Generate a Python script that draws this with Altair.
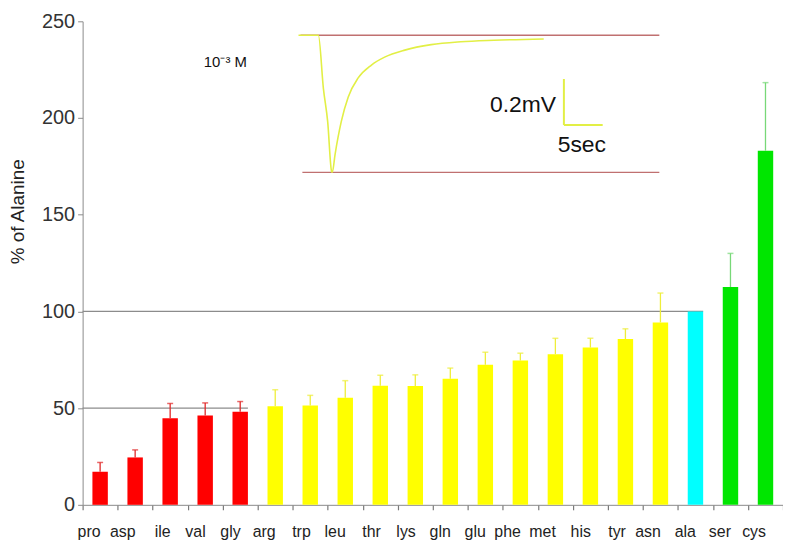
import altair as alt
import pandas as pd

# ---- main bar data ----
amino = ["pro", "asp", "ile", "val", "gly", "arg", "trp", "leu", "thr", "lys",
         "gln", "glu", "phe", "met", "his", "tyr", "asn", "ala", "ser", "cys"]
pct = [17.1, 24.5, 44.7, 46.2, 48.1, 51.0, 51.3, 55.3, 61.6, 61.4,
       65.2, 72.4, 74.6, 77.9, 81.3, 85.7, 94.3, 100.0, 112.6, 183.1]
sem = [4.8, 3.9, 7.7, 6.5, 5.3, 8.5, 5.3, 8.9, 5.4, 5.8,
       5.5, 6.5, 3.8, 8.2, 4.8, 5.3, 15.2, 0.0, 17.4, 35.2]
group = ["low"] * 5 + ["mid"] * 12 + ["ref"] + ["high"] * 2

group_names = ["low", "mid", "ref", "high"]
bar_colors = ["#ff0000", "#ffff00", "#00ffff", "#00e600"]
err_colors = ["#e02828", "#eeee3a", "#00e0e0", "#78d878"]

# reference lines (value, first category, last category)
ref_vals = [50, 100]
ref_from = ["pro", "pro"]
ref_to = ["gly", "ala"]

# ---- inset trace (time in s, potential in mV) ----
trace_t = [0.0, 2.56, 3.21, 3.76, 4.27, 4.36, 4.71, 5.51, 6.41, 7.69,
           9.40, 11.1, 13.7, 17.1, 20.9, 25.2, 31.6]
trace_v = [0.0, 0.0, -0.244, -0.395, -0.623, -0.626, -0.545, -0.395, -0.282,
           -0.195, -0.136, -0.100, -0.068, -0.043, -0.030, -0.023, -0.017]
base_t0 = [0.26, 0.5]
base_t1 = [46.5, 46.5]
base_v = [0.0, -0.627]
# scale bar: 0.2 mV and 5 s
sbar_t = [34.2, 34.2]
sbar_t2 = [34.2, 39.2]
sbar_v = [-0.2, -0.41]
sbar_v2 = [-0.41, -0.41]
inset_text = ["0.2mV", "5sec"]
inset_text_t = [33.2, 33.4]
inset_text_v = [-0.32, -0.5]
inset_text_align = ["right", "left"]
conc_label = "10\u207b\u00b3 M"
conc_t = [-12.2]
conc_v = [-0.123]

FONT = "Liberation Sans"

df = pd.DataFrame({"aa": amino, "pct": pct, "sem": sem, "group": group})
df["top"] = df["pct"] + df["sem"]
df_err = df[df["sem"] > 0]

xscale = alt.Scale(domain=amino, paddingInner=0, paddingOuter=0)
xenc = alt.X("aa:N", scale=xscale, title=None,
             axis=alt.Axis(labelAngle=0, labelFontSize=16, labelFont=FONT,
                           labelColor="#222222", domainColor="#8a8a8a",
                           ticks=True, tickColor="#7a7a7a", tickSize=5,
                           tickWidth=1.2, tickBand="extent", labelPadding=22))
yscale = alt.Scale(domain=[0, 250], nice=False)
yenc = alt.Y("pct:Q", scale=yscale, title="% of Alanine",
             axis=alt.Axis(values=[0, 50, 100, 150, 200, 250], grid=False,
                           labelFontSize=20, labelFont=FONT, labelColor="#333333",
                           titleFontSize=19, titleFont=FONT, titleFontWeight="normal",
                           titleColor="#222222", titlePadding=14, titleY=191,
                           domainColor="#8a8a8a", tickColor="#8a8a8a",
                           tickSize=5, labelPadding=3))

bars = alt.Chart(df).mark_bar(width=15.5).encode(
    x=xenc, y=yenc,
    color=alt.Color("group:N", scale=alt.Scale(domain=group_names, range=bar_colors),
                    legend=None),
)

err_base = alt.Chart(df_err)
err_line = err_base.mark_rule(strokeWidth=1.3).encode(
    x=alt.X("aa:N", scale=xscale),
    y=alt.Y("pct:Q", scale=yscale),
    y2="top:Q",
    color=alt.Color("group:N", scale=alt.Scale(domain=group_names, range=err_colors),
                    legend=None),
)
err_cap = err_base.mark_tick(size=6, thickness=1.5).encode(
    x=alt.X("aa:N", scale=xscale),
    y=alt.Y("top:Q", scale=yscale),
    color=alt.Color("group:N", scale=alt.Scale(domain=group_names, range=err_colors),
                    legend=None),
)
errs = alt.layer(err_line, err_cap)

ref_df = pd.DataFrame({"v": ref_vals, "a": ref_from, "b": ref_to})
refs = alt.Chart(ref_df).mark_rule(color="#8c8c8c", strokeWidth=1.3).encode(
    x=alt.X("a:N", scale=xscale, bandPosition=0),
    x2=alt.X2("b:N", bandPosition=0.72),
    y=alt.Y("v:Q", scale=yscale),
)

main = alt.layer(refs, bars, errs).resolve_scale(color="independent")

# ---- inset ----
ix = alt.Scale(domain=[0, 50], range=[217, 607], nice=False, zero=False)
iy = alt.Scale(domain=[-1, 0], range=[234, 14], nice=False, zero=False)

trace_df = pd.DataFrame({"t": trace_t, "v": trace_v})
trace = alt.Chart(trace_df).mark_line(color="#e2ef45", strokeWidth=1.6,
                                      interpolate="monotone").encode(
    x=alt.X("t:Q", scale=ix, axis=None),
    y=alt.Y("v:Q", scale=iy, axis=None),
)
base_df = pd.DataFrame({"t0": base_t0, "t1": base_t1, "v": base_v})
baselines = alt.Chart(base_df).mark_rule(color="#c07070", strokeWidth=1.3).encode(
    x=alt.X("t0:Q", scale=ix, axis=None),
    x2="t1:Q",
    y=alt.Y("v:Q", scale=iy, axis=None),
)
sbar_df = pd.DataFrame({"t": sbar_t, "t2": sbar_t2, "v": sbar_v, "v2": sbar_v2})
sbar = alt.Chart(sbar_df).mark_rule(color="#e2ef45", strokeWidth=2).encode(
    x=alt.X("t:Q", scale=ix, axis=None),
    x2="t2:Q",
    y=alt.Y("v:Q", scale=iy, axis=None),
    y2="v2:Q",
)
txt_df = pd.DataFrame({"label": inset_text, "t": inset_text_t, "v": inset_text_v,
                       "al": inset_text_align})
txt_r = alt.Chart(txt_df[txt_df["al"] == "right"]).mark_text(
    align="right", baseline="middle", fontSize=23, font=FONT, color="#111111").encode(
    x=alt.X("t:Q", scale=ix, axis=None),
    y=alt.Y("v:Q", scale=iy, axis=None),
    text="label:N",
)
txt_l = alt.Chart(txt_df[txt_df["al"] == "left"]).mark_text(
    align="left", baseline="middle", fontSize=23, font=FONT, color="#111111").encode(
    x=alt.X("t:Q", scale=ix, axis=None),
    y=alt.Y("v:Q", scale=iy, axis=None),
    text="label:N",
)
conc_df = pd.DataFrame({"label": [conc_label], "t": conc_t, "v": conc_v})
conc = alt.Chart(conc_df).mark_text(
    align="left", baseline="middle", fontSize=15, font=FONT, color="#111111").encode(
    x=alt.X("t:Q", scale=ix, axis=None),
    y=alt.Y("v:Q", scale=iy, axis=None),
    text="label:N",
)
inset = alt.layer(baselines, trace, sbar, txt_r, txt_l, conc)

chart = alt.layer(main, inset).resolve_scale(
    x="independent", y="independent", color="independent"
).properties(
    width=704, height=486,
    padding={"left": 75, "top": 12, "right": 0, "bottom": 38},
    autosize=alt.AutoSizeParams(type="none"),
    background="white",
).configure_view(stroke=None)

chart.save("out.html", embed_options={"renderer": "svg", "actions": False})
